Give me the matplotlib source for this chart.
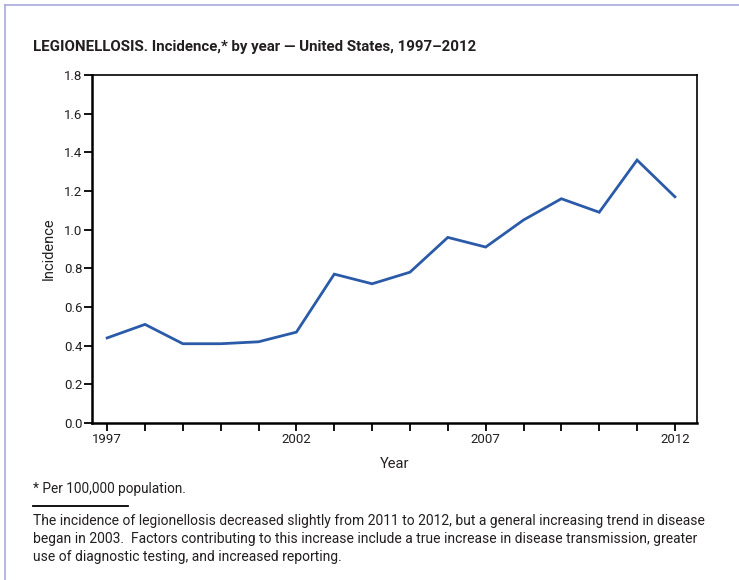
import matplotlib
matplotlib.use("Agg")
import matplotlib.pyplot as plt
from matplotlib.lines import Line2D

years = list(range(1997, 2013))
incidence = [0.44, 0.51, 0.41, 0.41, 0.42, 0.47, 0.77, 0.72, 0.78,
             0.96, 0.91, 1.05, 1.16, 1.09, 1.36, 1.17]
year_labels = [1997, 2002, 2007, 2012]
y_ticks = [0.0, 0.2, 0.4, 0.6, 0.8, 1.0, 1.2, 1.4, 1.6, 1.8]

FONT = ["Liberation Sans Narrow", "Roboto", "DejaVu Sans"]
plt.rcParams["font.family"] = FONT
TXT = "#231f20"

fig = plt.figure(figsize=(7.39, 5.80), dpi=100)
fig.patch.set_facecolor("white")

ax = fig.add_axes([0.1245, 0.2707, 0.8185, 0.600])
ax.plot(years, incidence, color="#2b5ba8", lw=2.0, solid_joinstyle="miter")
ax.set_xlim(1996.6, 2012.58)
ax.set_ylim(0, 1.8)
ax.set_xticks(years)
ax.set_xticklabels([str(y) if y in year_labels else "" for y in years])
ax.set_yticks(y_ticks)
ax.set_yticklabels([f"{v:.1f}" for v in y_ticks])
ax.tick_params(axis="both", length=6, width=1.3, color="black",
               labelsize=9.5, labelcolor=TXT, pad=1)
for side in ("left", "bottom"):
    ax.spines[side].set_linewidth(1.8)
for side in ("top", "right"):
    ax.spines[side].set_linewidth(1.2)
ax.set_xlabel("Year", fontsize=10.5, color=TXT, labelpad=8)
ax.set_ylabel("Incidence", fontsize=10.5, color=TXT, labelpad=6)

fig.text(33 / 739, 1 - 47 / 580, "LEGIONELLOSIS. Incidence,* by year \u2014 United States, 1997\u20132012",
         fontsize=10.8, fontweight="semibold", color=TXT, va="center", ha="left")
fig.text(33 / 739, 1 - 489 / 580, "* Per 100,000 population.",
         fontsize=9.8, color=TXT, va="center", ha="left")
fig.add_artist(Line2D([33 / 739, 128 / 739], [1 - 506 / 580, 1 - 506 / 580],
                      transform=fig.transFigure, color="black", lw=1.3))
body = ("The incidence of legionellosis decreased slightly from 2011 to 2012, but a general increasing trend in disease\n"
        "began in 2003.  Factors contributing to this increase include a true increase in disease transmission, greater\n"
        "use of diagnostic testing, and increased reporting.")
fig.text(33 / 739, 1 - 514 / 580, body, fontsize=10.0, color=TXT, va="top", ha="left",
         linespacing=1.35)

# page frame
fig.add_artist(Line2D([5 / 739, 5 / 739], [0, 1 - 5 / 580], transform=fig.transFigure,
                      color="#a9a9e0", lw=1.2))
fig.add_artist(Line2D([5 / 739, 1], [1 - 5 / 580, 1 - 5 / 580], transform=fig.transFigure,
                      color="#a9a9e0", lw=1.2))

fig.savefig("out.png", dpi=100, facecolor="white")
